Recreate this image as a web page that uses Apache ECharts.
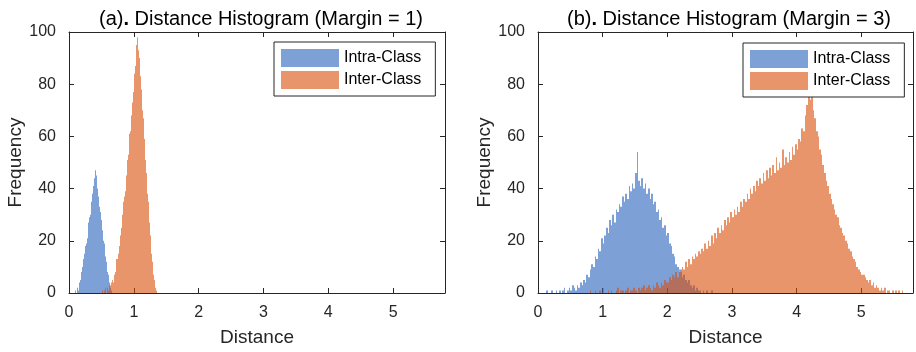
<!DOCTYPE html>
<html>
<head>
<meta charset="utf-8">
<script src="https://cdn.jsdelivr.net/npm/echarts@6/dist/echarts.min.js"></script>
<style>
html,body{margin:0;padding:0;background:#fff;}
#chart{width:916px;height:352px;}
</style>
</head>
<body>
<div id="chart"></div>
<script>
// bin layout of each histogram (left edge of first bin, bin width)
var aIntraStart = 0.10, aInterStart = 0.50, aBin = 0.01;
var bIntraStart = 0.10, bInterStart = 0.80, bBin = 0.025;

// (a) margin = 1
var aIntra = [1,0,1,2,1,3,4,5,7,8, 10,11,13,15,14,18,19,22,21,26, 27,29,31,30,35,36,38,41,39,44,
  47,43,45,40,41,37,36,33,31,29, 28,24,23,20,19,16,14,12,10,8, 7,5,4,2,2,1];
var aInter = [0,1,0,0,1,0,2,0,1,2, 1,2,3,2,3,4,3,5,4,6, 7,8,10,13,13,14,15,18,21,22,
  25,27,30,34,35,37,40,39,45,47, 51,53,56,61,62,64,68,73,74,77, 80,84,87,91,95,98,96,93,90,86,
  83,78,75,70,67,62,59,54,51,46, 43,38,35,30,27,22,19,15,12,9, 7,5,3,2,1,0];

// (b) margin = 3
var bIntra = [0,1,0,0,1,0,0,1,0,1, 0,1,2,0,1,2,1,3,2,1, 3,2,4,3,5,4,7,6,9,11,
  10,14,13,17,16,21,19,22,25,23, 28,26,30,27,32,31,34,33,37,35, 38,36,41,39,42,40,46,54,43,41,
  44,40,42,38,40,36,38,34,35,31, 32,28,29,25,26,22,23,19,18,15, 14,11,10,8,9,6,7,5,4,5,
  3,2,3,1,2,1,1,0,1,0, 1,0,0,1];
var bInter = [1,0,0,1,0,0,1,0,2,0, 0,1,0,1,0,0,1,2,0,1, 1,0,1,2,0,1,1,2,1,0,
  2,1,2,3,1,2,3,2,1,3, 2,4,3,2,4,3,5,4,4,6, 5,7,6,8,6,9,8,10,9,12,
  10,13,11,14,13,15,14,16,15,17, 16,19,17,20,18,22,19,23,21,25, 23,26,24,28,26,29,27,31,29,32,
  30,33,31,35,33,36,35,38,36,40, 38,41,39,43,41,44,42,46,43,47, 44,48,45,49,46,52,47,50,48,55,
  49,52,50,54,51,56,53,57,55,59, 58,63,62,68,72,79,74,77,70,67, 62,60,55,53,49,46,43,41,38,36,
  34,32,30,29,26,25,23,22,20,19, 17,16,14,13,12,10,9,8,7,7, 6,5,4,5,3,4,2,3,2,1,
  2,1,2,0,1,1,0,1,0,1, 0,1,0,1];

var titles = ['(a){b|.} Distance Histogram (Margin = 1)', '(b){b|.} Distance Histogram (Margin = 3)'];

var FONT = 'Liberation Sans, Arial, Helvetica, sans-serif';
var INK = '#262626';
var BLUE = 'rgba(38,97,187,0.6)';
var ORANGE = 'rgba(217,78,10,0.6)';

function toBins(start, bin, counts) {
  return counts.map(function (c, i) { return [start + i * bin, c, bin]; });
}

function renderBar(params, api) {
  var p0 = api.coord([api.value(0), api.value(1)]);
  var p1 = api.coord([api.value(0) + api.value(2), 0]);
  // snap bin edges to whole pixels so neighbouring bars leave no seams
  var x0 = Math.round(p0[0]), x1 = Math.round(p1[0]);
  return {
    type: 'rect',
    shape: { x: x0, y: p0[1], width: x1 - x0, height: p1[1] - p0[1] },
    style: api.style()
  };
}

function xAx(grid, top) {
  return {
    type: 'value', gridIndex: grid, position: top ? 'top' : 'bottom',
    min: 0, max: 5.8, interval: 1,
    name: top ? '' : 'Distance', nameLocation: 'middle', nameGap: 35,
    nameTextStyle: { fontFamily: FONT, fontSize: 19, color: INK },
    axisLine: { show: true, onZero: false, lineStyle: { color: INK, width: 1 } },
    axisTick: { show: true, inside: true, length: 5, lineStyle: { color: INK } },
    axisLabel: { show: !top, showMaxLabel: false, margin: 12, fontFamily: FONT, fontSize: 16, color: INK },
    splitLine: { show: false }
  };
}

function yAx(grid, right) {
  return {
    type: 'value', gridIndex: grid, position: right ? 'right' : 'left',
    min: 0, max: 100, interval: 20,
    name: right ? '' : 'Frequency', nameLocation: 'middle', nameGap: 42,
    nameTextStyle: { fontFamily: FONT, fontSize: 19, color: INK },
    axisLine: { show: true, onZero: false, lineStyle: { color: INK, width: 1 } },
    axisTick: { show: true, inside: true, length: 5, lineStyle: { color: INK } },
    axisLabel: { show: !right, margin: 13, fontFamily: FONT, fontSize: 16, color: INK },
    splitLine: { show: false }
  };
}

function legendAt(left, top) {
  return {
    orient: 'vertical', left: left, top: top,
    data: ['Intra-Class', 'Inter-Class'],
    icon: 'rect', itemWidth: 58, itemHeight: 18, itemGap: 4,
    padding: [7, 14, 7, 7],
    borderColor: INK, borderWidth: 1, borderRadius: 0, backgroundColor: '#fff',
    textStyle: { fontFamily: FONT, fontSize: 16, color: '#000' },
    selectedMode: false
  };
}

function histSeries(name, color, xi, yi, data) {
  return {
    type: 'custom', name: name, xAxisIndex: xi, yAxisIndex: yi,
    renderItem: renderBar, encode: { x: 0, y: 1 },
    itemStyle: { color: color }, data: data, silent: true
  };
}

var chart = echarts.init(document.getElementById('chart'), null, { renderer: 'canvas' });
chart.setOption({
  animation: false,
  backgroundColor: '#fff',
  title: [
    { text: titles[0], left: 94, top: 4,
      textStyle: { fontFamily: FONT, fontSize: 20, fontWeight: 'normal', color: '#000',
        rich: { b: { fontFamily: FONT, fontSize: 20, fontWeight: 'bold', color: '#000' } } } },
    { text: titles[1], left: 562, top: 4,
      textStyle: { fontFamily: FONT, fontSize: 20, fontWeight: 'normal', color: '#000',
        rich: { b: { fontFamily: FONT, fontSize: 20, fontWeight: 'bold', color: '#000' } } } }
  ],
  legend: [legendAt(274, 42), legendAt(743, 43)],
  grid: [
    { left: 69, top: 32, width: 376, height: 262 },
    { left: 538, top: 32, width: 375, height: 261 }
  ],
  xAxis: [xAx(0, false), xAx(0, true), xAx(1, false), xAx(1, true)],
  yAxis: [yAx(0, false), yAx(0, true), yAx(1, false), yAx(1, true)],
  series: [
    histSeries('Intra-Class', BLUE, 0, 0, toBins(aIntraStart, aBin, aIntra)),
    histSeries('Inter-Class', ORANGE, 0, 0, toBins(aInterStart, aBin, aInter)),
    histSeries('Intra-Class', BLUE, 2, 2, toBins(bIntraStart, bBin, bIntra)),
    histSeries('Inter-Class', ORANGE, 2, 2, toBins(bInterStart, bBin, bInter))
  ]
});
</script>
</body>
</html>
